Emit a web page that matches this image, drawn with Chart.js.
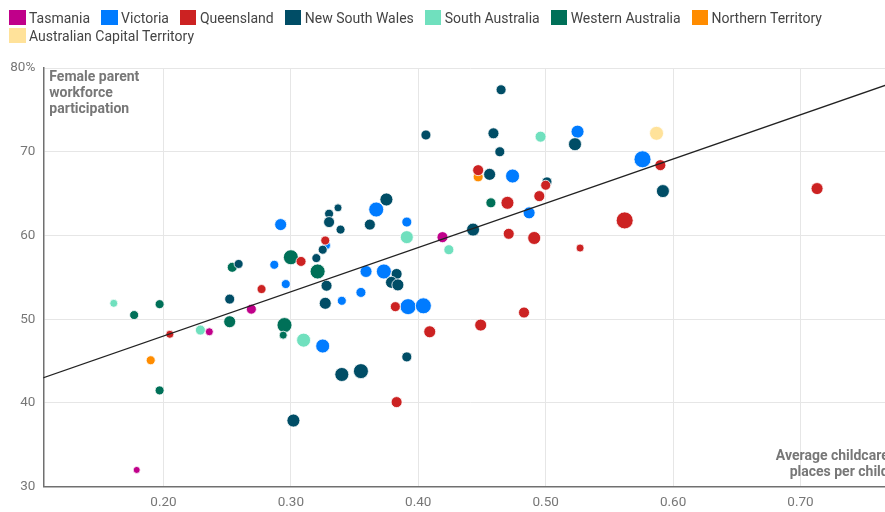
<!DOCTYPE html>
<html>
<head>
<meta charset="utf-8">
<script src="https://cdn.jsdelivr.net/npm/chart.js@4/dist/chart.umd.min.js"></script>
<style>
  body { margin: 0; overflow: hidden; background: #fff; font-family: Roboto, sans-serif; }
  #wrap { position: absolute; left: 0; top: 0; width: 885px; height: 512px; overflow: hidden; }
  #myChart { position: absolute; left: 0; top: 0; }
  #legend { position: absolute; left: 9px; top: 10px; width: 870px; display: flex; flex-wrap: wrap; row-gap: 3px; }
  .item { display: flex; align-items: center; margin-right: 11px; height: 15px; font-size: 14px; color: #444; }
  .box { width: 16.5px; height: 15px; margin-right: 3.5px; }
</style>
</head>
<body>
<div id="wrap">
  <canvas id="myChart" width="906" height="512"></canvas>
  <div id="legend"></div>
</div>
<script>
//variables
const states = ['Tasmania', 'Victoria', 'Queensland', 'New South Wales', 'South Australia', 'Western Australia', 'Northern Territory', 'Australian Capital Territory'];
const colors = ['#c0008a', '#007bff', '#cc2222', '#004d66', '#70e0be', '#007058', '#ff8c00', '#ffe29a'];

// [places per child, female participation %, bubble size]
const tasmania = [[0.179, 32.0, 3.5], [0.236, 48.5, 4], [0.269, 51.2, 5], [0.419, 59.8, 5.5]];
const victoria = [[0.287, 56.5, 4.5], [0.296, 54.2, 4.5], [0.292, 61.3, 6], [0.325, 46.8, 7], [0.328, 58.8, 4],
  [0.340, 52.2, 4.5], [0.359, 55.7, 6], [0.373, 55.7, 7.5], [0.355, 53.2, 5], [0.392, 51.5, 8], [0.404, 51.6, 8],
  [0.367, 63.1, 7.5], [0.391, 61.6, 5], [0.474, 67.1, 7], [0.487, 62.7, 6], [0.525, 72.4, 6.5], [0.576, 69.1, 8.5]];
const queensland = [[0.205, 48.2, 4], [0.277, 53.6, 4.5], [0.308, 56.9, 5], [0.327, 59.4, 4.5], [0.382, 51.5, 5],
  [0.383, 40.1, 5.5], [0.409, 48.5, 6], [0.449, 49.3, 6], [0.483, 50.8, 5.5], [0.447, 67.8, 5.5], [0.470, 63.9, 6.5],
  [0.471, 60.2, 5.5], [0.491, 59.7, 6.5], [0.495, 64.7, 5.5], [0.500, 66.0, 5], [0.527, 58.5, 4], [0.562, 61.8, 8.5],
  [0.590, 68.4, 5.5], [0.713, 65.6, 6]];
const nsw = [[0.252, 52.4, 5], [0.259, 56.6, 4.5], [0.320, 57.3, 4.5], [0.325, 58.3, 4.5], [0.328, 54.0, 5.5],
  [0.327, 51.9, 6], [0.337, 63.3, 4], [0.330, 62.6, 4.5], [0.330, 61.6, 5.5], [0.339, 60.7, 4.5], [0.362, 61.3, 5.5],
  [0.375, 64.3, 6.5], [0.383, 55.4, 5.5], [0.379, 54.4, 6], [0.384, 54.1, 6], [0.391, 45.5, 5], [0.340, 43.4, 7],
  [0.355, 43.8, 7.5], [0.302, 37.9, 6.5], [0.406, 72.0, 5], [0.465, 77.4, 5], [0.459, 72.2, 5.5], [0.464, 70.0, 5],
  [0.456, 67.3, 6], [0.443, 60.7, 6.5], [0.501, 66.4, 5], [0.523, 70.9, 6.5], [0.592, 65.3, 6.5]];
const southAus = [[0.161, 51.9, 4], [0.229, 48.7, 5], [0.310, 47.5, 7], [0.391, 59.8, 6.5], [0.424, 58.3, 5], [0.496, 71.8, 5.5]];
const westernAus = [[0.177, 50.5, 4.5], [0.197, 51.8, 4.5], [0.197, 41.5, 4.5], [0.252, 49.7, 6], [0.254, 56.2, 5],
  [0.300, 57.4, 7.5], [0.295, 49.3, 7.5], [0.294, 48.1, 4], [0.321, 55.7, 7.5], [0.457, 63.9, 5]];
const northernTer = [[0.190, 45.1, 4.5], [0.447, 67.0, 5]];
const act = [[0.587, 72.2, 7]];

const trendX = [0.10, 0.80];
const trendY = [42.7, 79.7];

const xTicks = [0.2, 0.3, 0.4, 0.5, 0.6, 0.7];
const yTicks = [30, 40, 50, 60, 70, 80];
const yTitle = ['Female parent', 'workforce', 'participation'];
const xTitle = ['Average childcare', 'places per child'];

const groups = [tasmania, victoria, queensland, nsw, southAus, westernAus, northernTer, act];
const drawOrder = [3, 4, 2, 3, 3, 3, 5, 3];

//legend
const legend = document.getElementById('legend');
states.forEach((s, i) => {
    legend.innerHTML += '<div class="item"><span class="box" style="background:' + colors[i] + '"></span>' + s + '</div>';
});

//axis titles
const titles = {
    id: 'titles',
    afterDraw(chart) {
        const ctx = chart.ctx;
        const a = chart.chartArea;
        ctx.save();
        ctx.font = 'bold 14px Roboto';
        ctx.fillStyle = '#777';
        ctx.textBaseline = 'middle';
        ctx.textAlign = 'left';
        yTitle.forEach((t, i) => ctx.fillText(t, a.left + 6, a.top + 9 + i * 16.3));
        ctx.textAlign = 'right';
        xTitle.forEach((t, i) => ctx.fillText(t, a.right - 8, a.bottom - 30 + i * 16));
        ctx.restore();
    }
};

//chart display
const datasets = groups.map((g, i) => ({
    label: states[i],
    data: g.map(p => ({ x: p[0], y: p[1], r: p[2] })),
    backgroundColor: colors[i],
    borderColor: '#fff',
    borderWidth: 0.8,
    order: drawOrder[i]
}));
datasets.push({
    type: 'line',
    label: 'trend',
    data: trendX.map((x, i) => ({ x: x, y: trendY[i] })),
    borderColor: '#222',
    borderWidth: 1.2,
    pointRadius: 0,
    order: 0
});

const ctx = document.getElementById('myChart').getContext('2d');
const chart = new Chart(ctx, {
    type: 'bubble',
    data: { datasets: datasets },
    options: {
        responsive: false,
        animation: false,
        layout: { padding: { top: 68, left: 0, right: 0, bottom: 0 } },
        plugins: { legend: { display: false }, tooltip: { enabled: false } },
        scales: {
            x: {
                type: 'linear',
                min: 0.1057,
                max: 0.7755,
                afterBuildTicks: s => { s.ticks = xTicks.map(v => ({ value: v })); },
                afterFit: s => { s.height = 25.3; },
                grid: { color: '#e6e6e6', drawTicks: false },
                border: { color: '#707070', width: 1.5 },
                ticks: { padding: 8, color: '#777', font: { family: 'Roboto', size: 13.5 }, callback: v => v.toFixed(2) }
            },
            y: {
                min: 30,
                max: 80,
                afterBuildTicks: s => { s.ticks = yTicks.map(v => ({ value: v })); },
                afterFit: s => { s.width = 43.3; },
                grid: { color: '#e6e6e6', drawTicks: false },
                border: { color: '#707070', width: 1.5 },
                ticks: { padding: 8, color: '#777', font: { family: 'Roboto', size: 13.5 }, callback: v => v === 80 ? '80%' : v }
            }
        }
    },
    plugins: [titles]
});
</script>
</body>
</html>
